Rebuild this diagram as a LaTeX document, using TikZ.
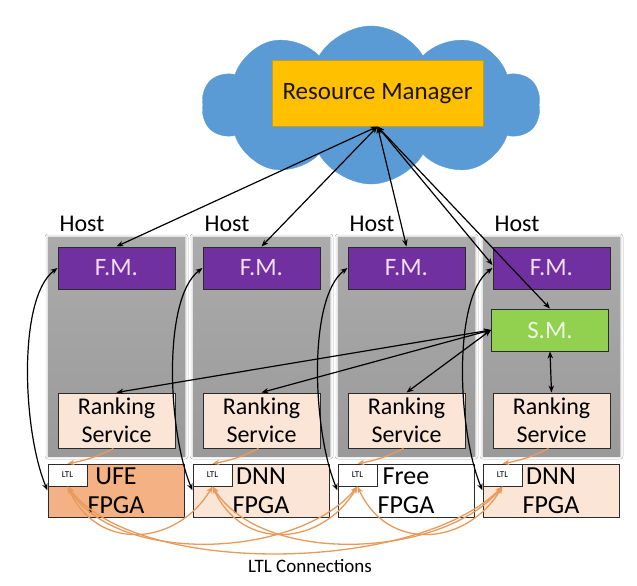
\documentclass[tikz,border=0pt]{standalone}
\usepackage{fontspec}
\setmainfont{Carlito}
\usetikzlibrary{shapes.symbols,arrows.meta,shadows.blur}
\definecolor{cloudblue}{HTML}{5B9BD5}
\definecolor{rmfill}{HTML}{FFC000}
\definecolor{rmdraw}{HTML}{C99A1E}
\definecolor{fmfill}{HTML}{7030A0}
\definecolor{fmtext}{HTML}{F2DDF4}
\definecolor{smfill}{HTML}{92D050}
\definecolor{smtext}{HTML}{EDF7E4}
\definecolor{peach}{HTML}{FBE5D6}
\definecolor{ufefill}{HTML}{F4B183}
\definecolor{ltlorange}{HTML}{E99A5B}
\definecolor{panelA}{HTML}{ABABAB}
\definecolor{panelB}{HTML}{BDBDBD}
\definecolor{panelC}{HTML}{9A9A9A}
\definecolor{boxline}{HTML}{2B2B2B}
\begin{document}
\begin{tikzpicture}[x=1pt,y=-1pt,
  panel/.style={rectangle, inner sep=0pt, top color=panelA, middle color=panelB, bottom color=panelC,
    blur shadow={shadow xshift=0pt, shadow yshift=0pt, shadow blur radius=3pt, shadow opacity=30},
    minimum width=137pt, minimum height=219pt},
  hostlbl/.style={font=\fontsize{24}{28}\selectfont, text=black, inner sep=0pt},
  fmbox/.style={rectangle, draw=boxline, line width=1pt, fill=fmfill, text=fmtext, inner sep=0pt,
    minimum width=117pt, minimum height=42pt, font=\fontsize{25}{28}\selectfont},
  smbox/.style={fmbox, fill=smfill, text=smtext},
  rsbox/.style={rectangle, draw=boxline, line width=1pt, fill=peach, text=black, inner sep=0pt,
    minimum width=117pt, minimum height=55pt, align=center, font=\fontsize{24}{28}\selectfont},
  fpgabox/.style={rectangle, draw=boxline, line width=1pt, text=black, inner sep=0pt,
    minimum width=136pt, minimum height=53pt, align=center, font=\fontsize{26}{29}\selectfont},
  ltlbox/.style={rectangle, draw=boxline, line width=0.8pt, fill=white, text=black, inner sep=0pt,
    minimum width=39pt, minimum height=22pt, font=\fontsize{9}{10}\selectfont},
  arr/.style={draw=black, line width=1.2pt, {Stealth[length=7pt,width=5.5pt]}-{Stealth[length=7pt,width=5.5pt]}},
  oarr/.style={draw=ltlorange, line width=1.3pt, -{Stealth[length=7pt,width=5.5pt]}},
  oarrb/.style={draw=ltlorange, line width=1.3pt, {Stealth[length=7pt,width=5.5pt]}-{Stealth[length=7pt,width=5.5pt]}}
]
\useasboundingbox[fill=white] (0,0) rectangle (637,586);

% cloud and resource manager
\node[cloud, cloud puffs=10, cloud puff arc=120, aspect=2.1, fill=cloudblue, draw=cloudblue,
  minimum width=338pt, minimum height=158pt, inner sep=0pt] (cloud) at (371,105) {};
\node[rectangle, draw=rmdraw, line width=1pt, fill=rmfill, minimum width=211pt, minimum height=65pt,
  inner sep=0pt, font=\fontsize{25}{29}\selectfont, text=black!85!brown] (rm) at (377.5,93.5) {Resource Manager};

% host panels
\foreach \i/\L in {1/48,2/193,3/338,4/483} {
  \node[panel] (panel\i) at (\L+68.5,346.5) {};
  \node[hostlbl] (host\i) at (\L+34,224) {Host};
  \node[fmbox] (fm\i) at (\L+68.5,268) {F.M.};
  \node[rsbox] (rs\i) at (\L+68.5,420.5) {Ranking\\Service};
}
\node[smbox] (sm) at (550,330) {S.M.};

% FPGAs
\node[fpgabox, fill=ufefill] (fpga1) at (48+68,490.5) {UFE\\FPGA};
\node[fpgabox, fill=peach] (fpga2) at (193+68,490.5) {DNN\\FPGA};
\node[fpgabox, fill=white] (fpga3) at (338+68,490.5) {Free\\FPGA};
\node[fpgabox, fill=peach] (fpga4) at (483+68,490.5) {DNN\\FPGA};
\foreach \i/\L in {1/48,2/193,3/338,4/483} {
  \node[ltlbox] (ltl\i) at (\L+19.5,475) {LTL};
}

% resource manager links
\draw[arr] (rm.south) -- (fm1.north);
\draw[arr] (rm.south) -- (fm2.north);
\draw[arr] (rm.south) -- (fm3.north);
\draw[arr] (rm.south) -- ([yshift=3pt]fm4.west);
\draw[arr] (rm.south) -- (sm.north);

% shard manager links
\draw[arr] (sm.west) -- (rs1.north);
\draw[arr] (sm.west) -- (rs2.north);
\draw[arr] (sm.west) -- (rs3.north);
\draw[arr] (sm.south) -- (rs4.north);

% FM to FPGA curves
\foreach \i in {1,2,3,4} {
  \draw[arr] (fm\i.west) .. controls +(-40,30) and +(-25,-60) .. (fpga\i.west);
}

% ranking service to LTL
\foreach \i in {1,2,3,4} {
  \draw[oarr] ([xshift=-3pt]rs\i.south) to[bend left=8] (ltl\i.north);
}

% LTL connections
\draw[oarrb] (ltl1.south) .. controls +(30,66) and +(-36,60) .. (ltl2.south);
\draw[oarrb] (ltl2.south) .. controls +(30,66) and +(-36,60) .. (ltl3.south);
\draw[oarrb] (ltl3.south) .. controls +(30,66) and +(-36,60) .. (ltl4.south);
\draw[oarrb] (ltl1.south) .. controls +(50,80) and +(-60,72) .. (ltl3.south);
\draw[oarrb] (ltl2.south) .. controls +(50,80) and +(-60,72) .. (ltl4.south);
\draw[oarrb] (ltl1.south) .. controls +(70,92) and +(-85,86) .. (ltl4.south);

\node[font=\fontsize{19}{22}\selectfont, inner sep=0pt] (ltlcap) at (310,566) {LTL Connections};
\end{tikzpicture}
\end{document}
